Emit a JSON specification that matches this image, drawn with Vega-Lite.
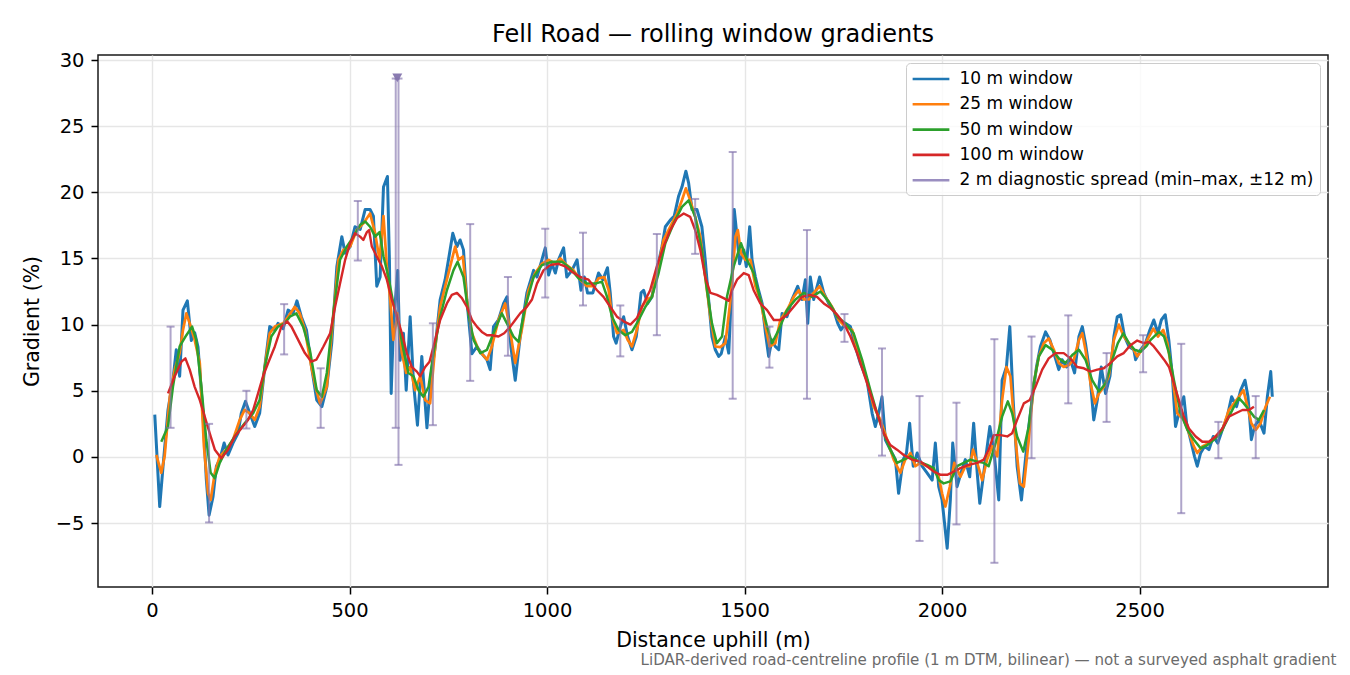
{
  "$schema": "https://vega.github.io/schema/vega-lite/v6.json",
  "width": 1230,
  "height": 532,
  "autosize": {"type": "none"},
  "padding": {"left": 98, "top": 55, "right": 22, "bottom": 88},
  "title": {"text": "Fell Road — rolling window gradients", "fontSize": 24, "fontWeight": "normal", "color": "#000000", "anchor": "middle", "frame": "group", "baseline": "alphabetic", "offset": 12, "dy": 28},
  "config": {
    "font": "DejaVu Sans",
    "view": {"stroke": "#1a1a1a", "strokeWidth": 1.5},
    "line": {"strokeJoin": "round", "strokeCap": "butt"},
    "axis": {"domain": false, "gridColor": "#e6e6e6", "gridWidth": 1.4, "tickColor": "#000000", "tickSize": 7, "tickWidth": 1.5, "labelFontSize": 19.5, "labelColor": "#000000", "labelPadding": 7, "titleFontSize": 20.5, "titleFontWeight": "normal", "titleColor": "#000000"}
  },
  "datasets": {
    "w10": [
      {"d":7,"g":3.2},{"d":19.5,"g":-3.75},{"d":28,"g":-0.7},{"d":40.5,"g":3.55},{"d":53,"g":5.8},{"d":61.5,"g":8.1},{"d":70,"g":6.1},{"d":78.5,"g":11.1},{"d":89.5,"g":11.8},{"d":99.5,"g":8.8},{"d":108,"g":9.4},{"d":116.5,"g":8.3},{"d":129,"g":3.3},{"d":137.5,"g":-1.7},{"d":144.5,"g":-4.4},{"d":154.5,"g":-3.0},{"d":163,"g":-0.7},{"d":171.5,"g":-0.2},{"d":182.5,"g":1.05},{"d":192.5,"g":0.15},{"d":205,"g":1.05},{"d":218,"g":1.8},{"d":226,"g":3.3},{"d":236.5,"g":4.2},{"d":247.5,"g":3.3},{"d":260,"g":2.3},{"d":272.5,"g":3.3},{"d":285.5,"g":6.8},{"d":298,"g":9.85},{"d":311,"g":9.6},{"d":319,"g":10.1},{"d":332,"g":9.7},{"d":344.5,"g":11.1},{"d":357,"g":10.85},{"d":367,"g":11.8},{"d":378,"g":10.6},{"d":391,"g":9.6},{"d":404,"g":6.8},{"d":417,"g":4.3},{"d":430,"g":3.8},{"d":442.5,"g":5.3},{"d":455,"g":8.6},{"d":468,"g":14.4},{"d":480.5,"g":16.65},{"d":489,"g":15.4},{"d":501.5,"g":15.9},{"d":514,"g":17.4},{"d":527,"g":17.2},{"d":539.5,"g":18.7},{"d":552,"g":18.7},{"d":560.5,"g":18.2},{"d":569,"g":12.9},{"d":577.5,"g":13.6},{"d":586,"g":20.4},{"d":596,"g":21.2},{"d":601,"g":14.9},{"d":605.5,"g":4.8},{"d":611,"g":9.85},{"d":622,"g":14.1},{"d":628,"g":7.3},{"d":636.5,"g":9.35},{"d":643.5,"g":5.05},{"d":653.5,"g":10.6},{"d":662,"g":5.6},{"d":672,"g":2.4},{"d":683,"g":7.6},{"d":696,"g":2.2},{"d":706,"g":6.1},{"d":717,"g":8.35},{"d":729.5,"g":11.9},{"d":742,"g":13.4},{"d":750.5,"g":14.9},{"d":761.5,"g":16.9},{"d":772,"g":15.9},{"d":780,"g":16.4},{"d":788.5,"g":15.65},{"d":797,"g":11.9},{"d":810,"g":7.8},{"d":822.5,"g":8.35},{"d":835,"g":7.8},{"d":848,"g":7.35},{"d":856,"g":6.6},{"d":864.5,"g":9.85},{"d":877,"g":10.35},{"d":890,"g":11.6},{"d":898.5,"g":12.1},{"d":908.5,"g":8.35},{"d":919.5,"g":5.8},{"d":932,"g":9.1},{"d":949,"g":12.4},{"d":966,"g":14.1},{"d":974.5,"g":13.6},{"d":987,"g":14.9},{"d":995.5,"g":15.8},{"d":1004,"g":13.75},{"d":1012.5,"g":14.6},{"d":1021,"g":13.9},{"d":1029,"g":14.9},{"d":1042,"g":15.8},{"d":1050,"g":13.6},{"d":1063,"g":14.1},{"d":1076,"g":14.9},{"d":1086,"g":12.6},{"d":1094.5,"g":13.6},{"d":1102.5,"g":12.4},{"d":1116,"g":12.4},{"d":1130.5,"g":13.9},{"d":1141.5,"g":13.4},{"d":1153,"g":14.3},{"d":1160,"g":12.4},{"d":1168.5,"g":9.1},{"d":1175,"g":8.6},{"d":1185.5,"g":9.85},{"d":1194,"g":10.6},{"d":1204,"g":9.1},{"d":1215,"g":8.1},{"d":1226,"g":9.1},{"d":1238,"g":12.4},{"d":1244.5,"g":12.6},{"d":1254.5,"g":11.6},{"d":1265.5,"g":12.1},{"d":1278,"g":14.1},{"d":1291,"g":15.9},{"d":1299.5,"g":17.4},{"d":1312,"g":17.9},{"d":1322,"g":18.2},{"d":1333,"g":19.7},{"d":1341.5,"g":20.4},{"d":1351.5,"g":21.6},{"d":1358.5,"g":20.7},{"d":1367,"g":18.7},{"d":1379.5,"g":18.7},{"d":1392,"g":17.4},{"d":1400.5,"g":14.9},{"d":1409,"g":11.9},{"d":1417.5,"g":9.1},{"d":1426,"g":8.1},{"d":1434.5,"g":7.6},{"d":1441,"g":7.8},{"d":1451.5,"g":9.1},{"d":1460,"g":7.85},{"d":1468.5,"g":13.6},{"d":1474,"g":18.7},{"d":1481,"g":16.65},{"d":1487.5,"g":14.6},{"d":1498,"g":15.65},{"d":1504.5,"g":14.4},{"d":1513,"g":17.4},{"d":1519,"g":14.9},{"d":1527.5,"g":13.6},{"d":1535.5,"g":12.6},{"d":1544.5,"g":11.6},{"d":1553,"g":9.35},{"d":1561,"g":7.6},{"d":1569.5,"g":8.85},{"d":1578,"g":8.35},{"d":1586.5,"g":8.1},{"d":1595,"g":10.85},{"d":1607.5,"g":10.6},{"d":1620,"g":11.9},{"d":1634.5,"g":12.9},{"d":1645.5,"g":11.9},{"d":1654,"g":13.4},{"d":1660,"g":10.1},{"d":1666.5,"g":13.6},{"d":1675,"g":11.9},{"d":1690,"g":13.6},{"d":1700.5,"g":12.4},{"d":1713,"g":11.6},{"d":1725.5,"g":11.1},{"d":1736,"g":10.1},{"d":1744,"g":9.6},{"d":1755,"g":10.1},{"d":1768,"g":9.85},{"d":1780.5,"g":8.35},{"d":1793,"g":7.1},{"d":1810,"g":5.8},{"d":1823,"g":3.3},{"d":1831,"g":2.3},{"d":1839.5,"g":3.3},{"d":1848,"g":4.55},{"d":1856.5,"g":1.3},{"d":1869,"g":0.55},{"d":1882,"g":-0.2},{"d":1890,"g":-2.75},{"d":1901.5,"g":-0.2},{"d":1910,"g":0.3},{"d":1918,"g":2.55},{"d":1927,"g":-0.7},{"d":1937,"g":0.3},{"d":1949.5,"g":-0.7},{"d":1962,"g":-1.2},{"d":1975,"g":-1.75},{"d":1983,"g":1.05},{"d":1991.5,"g":-2.25},{"d":2000,"g":-3.25},{"d":2013,"g":-6.9},{"d":2021,"g":-3.25},{"d":2027,"g":1.05},{"d":2038,"g":-2.25},{"d":2048,"g":-1.2},{"d":2059,"g":-0.2},{"d":2070,"g":-1.5},{"d":2080,"g":2.55},{"d":2089,"g":-1.2},{"d":2095.5,"g":-3.5},{"d":2105.5,"g":-1.2},{"d":2121,"g":2.3},{"d":2131,"g":0.55},{"d":2143.5,"g":-3.25},{"d":2152,"g":5.8},{"d":2163,"g":6.8},{"d":2171.5,"g":9.85},{"d":2180,"g":4.3},{"d":2190,"g":-0.7},{"d":2201,"g":-3.25},{"d":2211,"g":-0.2},{"d":2219.5,"g":2.3},{"d":2228,"g":4.3},{"d":2239,"g":6.8},{"d":2249,"g":8.35},{"d":2262,"g":9.45},{"d":2273,"g":8.85},{"d":2283,"g":7.85},{"d":2295.5,"g":6.6},{"d":2304,"g":7.35},{"d":2315,"g":6.8},{"d":2325,"g":7.35},{"d":2335.5,"g":6.35},{"d":2346.5,"g":9.1},{"d":2355,"g":9.85},{"d":2363,"g":8.6},{"d":2374,"g":6.35},{"d":2384,"g":2.8},{"d":2393,"g":4.3},{"d":2403,"g":6.8},{"d":2414,"g":4.8},{"d":2425,"g":6.1},{"d":2435,"g":9.1},{"d":2443.5,"g":10.6},{"d":2452,"g":10.75},{"d":2462,"g":9.1},{"d":2473,"g":8.35},{"d":2485.5,"g":8.1},{"d":2490,"g":7.35},{"d":2502.5,"g":8.1},{"d":2515,"g":8.6},{"d":2526,"g":9.6},{"d":2536,"g":10.35},{"d":2546.5,"g":9.35},{"d":2555,"g":10.35},{"d":2565,"g":10.75},{"d":2574,"g":8.85},{"d":2583,"g":6.1},{"d":2591,"g":2.3},{"d":2599.5,"g":3.3},{"d":2612,"g":4.55},{"d":2619,"g":2.55},{"d":2629,"g":1.3},{"d":2639,"g":0.05},{"d":2646,"g":-0.7},{"d":2654.5,"g":0.3},{"d":2664.5,"g":0.8},{"d":2675.5,"g":0.55},{"d":2686.5,"g":1.55},{"d":2698,"g":1.05},{"d":2709.5,"g":2.05},{"d":2722,"g":3.05},{"d":2733,"g":4.55},{"d":2745.5,"g":3.8},{"d":2756,"g":5.05},{"d":2767,"g":5.8},{"d":2774.5,"g":4.55},{"d":2783,"g":1.3},{"d":2791,"g":2.3},{"d":2802,"g":2.8},{"d":2815,"g":1.8},{"d":2823.5,"g":4.55},{"d":2832,"g":6.45},{"d":2836,"g":4.55}
    ],
    "w25": [
      {"d":11,"g":0.15},{"d":23.5,"g":-1.2},{"d":32,"g":0.05},{"d":45,"g":4.55},{"d":57.5,"g":6.6},{"d":70,"g":7.85},{"d":78.5,"g":9.6},{"d":87,"g":10.85},{"d":95.5,"g":10.1},{"d":108,"g":8.85},{"d":121,"g":7.1},{"d":131.5,"g":0.8},{"d":142,"g":-2.75},{"d":148.5,"g":-3.25},{"d":159,"g":-1.2},{"d":171.5,"g":0.05},{"d":188,"g":0.55},{"d":205,"g":1.3},{"d":222,"g":2.8},{"d":234.5,"g":3.55},{"d":247.5,"g":3.3},{"d":260,"g":2.8},{"d":272.5,"g":3.8},{"d":285.5,"g":6.8},{"d":298,"g":9.35},{"d":311,"g":9.85},{"d":332,"g":10.1},{"d":344.5,"g":10.6},{"d":361.5,"g":11.35},{"d":374,"g":10.85},{"d":387,"g":9.6},{"d":403.5,"g":6.8},{"d":416,"g":5.05},{"d":425.5,"g":4.05},{"d":442.5,"g":5.3},{"d":455,"g":9.35},{"d":472,"g":14.9},{"d":484.5,"g":15.65},{"d":501.5,"g":15.9},{"d":518.5,"g":17.15},{"d":535,"g":17.65},{"d":552,"g":18.4},{"d":565,"g":16.9},{"d":576,"g":14.9},{"d":586,"g":18.2},{"d":594.5,"g":14.4},{"d":603,"g":11.9},{"d":611,"g":8.85},{"d":622,"g":10.85},{"d":632.5,"g":7.85},{"d":643.5,"g":6.35},{"d":653.5,"g":6.8},{"d":666,"g":5.05},{"d":679,"g":6.1},{"d":691.5,"g":4.3},{"d":704,"g":4.05},{"d":717,"g":8.35},{"d":729.5,"g":11.35},{"d":746.5,"g":13.4},{"d":759,"g":14.9},{"d":767.5,"g":15.9},{"d":776,"g":14.9},{"d":787,"g":15.15},{"d":797,"g":11.9},{"d":810,"g":9.35},{"d":826.5,"g":8.1},{"d":848,"g":7.35},{"d":860.5,"g":8.35},{"d":877,"g":10.35},{"d":894,"g":11.6},{"d":905,"g":9.85},{"d":919.5,"g":7.1},{"d":936,"g":9.6},{"d":953,"g":12.6},{"d":970,"g":13.9},{"d":987,"g":14.6},{"d":1004,"g":14.9},{"d":1021,"g":14.6},{"d":1033.5,"g":15.0},{"d":1050,"g":14.5},{"d":1067,"g":14.1},{"d":1084,"g":13.4},{"d":1101,"g":12.9},{"d":1118,"g":12.9},{"d":1130.5,"g":13.5},{"d":1145,"g":13.6},{"d":1156,"g":12.6},{"d":1164.5,"g":10.6},{"d":1177,"g":9.35},{"d":1194,"g":9.6},{"d":1204,"g":8.85},{"d":1215,"g":8.35},{"d":1227.5,"g":9.6},{"d":1240,"g":11.35},{"d":1253,"g":11.9},{"d":1265.5,"g":12.1},{"d":1278,"g":13.9},{"d":1295,"g":16.4},{"d":1312,"g":17.4},{"d":1329,"g":18.4},{"d":1341.5,"g":19.4},{"d":1351.5,"g":20.3},{"d":1362.5,"g":19.4},{"d":1375,"g":18.15},{"d":1388,"g":16.65},{"d":1400.5,"g":13.6},{"d":1413.5,"g":10.6},{"d":1426,"g":8.35},{"d":1438.5,"g":8.3},{"d":1451.5,"g":8.6},{"d":1464.5,"g":11.9},{"d":1477,"g":16.65},{"d":1483,"g":17.15},{"d":1491,"g":15.4},{"d":1502,"g":14.9},{"d":1515,"g":14.9},{"d":1527.5,"g":12.9},{"d":1540,"g":11.9},{"d":1553,"g":9.85},{"d":1563.5,"g":8.35},{"d":1578,"g":8.6},{"d":1590.5,"g":10.35},{"d":1607.5,"g":11.1},{"d":1624.5,"g":12.1},{"d":1637,"g":12.6},{"d":1650,"g":11.9},{"d":1662.5,"g":11.9},{"d":1675,"g":12.4},{"d":1690,"g":12.9},{"d":1704.5,"g":12.1},{"d":1721.5,"g":11.35},{"d":1738.5,"g":10.35},{"d":1755,"g":9.85},{"d":1772.5,"g":9.6},{"d":1789,"g":7.85},{"d":1810,"g":5.8},{"d":1827,"g":3.8},{"d":1844,"g":2.8},{"d":1861,"g":1.3},{"d":1877.5,"g":-0.2},{"d":1894.5,"g":-1.2},{"d":1907,"g":-0.2},{"d":1920,"g":0.3},{"d":1932.5,"g":-0.7},{"d":1945,"g":-0.45},{"d":1962,"g":-0.7},{"d":1979,"g":-1.0},{"d":1991.5,"g":-1.5},{"d":2000,"g":-2.75},{"d":2008.5,"g":-3.75},{"d":2019.5,"g":-2.25},{"d":2031,"g":-0.45},{"d":2046.5,"g":-1.5},{"d":2059,"g":-0.7},{"d":2070,"g":-0.7},{"d":2078.5,"g":0.55},{"d":2089,"g":-0.45},{"d":2101.5,"g":-1.75},{"d":2114,"g":-0.2},{"d":2127,"g":0.8},{"d":2139.5,"g":0.05},{"d":2152,"g":4.3},{"d":2163,"g":6.8},{"d":2173,"g":6.1},{"d":2186,"g":1.3},{"d":2197,"g":-2.0},{"d":2207,"g":-2.25},{"d":2219.5,"g":1.3},{"d":2232,"g":5.55},{"d":2245,"g":7.6},{"d":2257.5,"g":8.6},{"d":2270,"g":8.95},{"d":2283,"g":8.1},{"d":2295.5,"g":7.1},{"d":2308,"g":6.8},{"d":2321,"g":6.95},{"d":2333.5,"g":7.35},{"d":2346.5,"g":8.85},{"d":2355,"g":9.35},{"d":2363,"g":8.1},{"d":2376,"g":5.55},{"d":2387,"g":4.05},{"d":2397,"g":4.8},{"d":2409.5,"g":5.3},{"d":2422,"g":6.1},{"d":2435,"g":8.85},{"d":2447.5,"g":10.0},{"d":2460,"g":9.1},{"d":2473,"g":8.6},{"d":2485.5,"g":8.1},{"d":2494,"g":7.6},{"d":2511,"g":8.35},{"d":2524,"g":9.1},{"d":2535,"g":9.7},{"d":2546.5,"g":9.1},{"d":2560,"g":9.6},{"d":2570.5,"g":8.6},{"d":2583,"g":6.1},{"d":2595.5,"g":3.3},{"d":2612,"g":2.8},{"d":2625,"g":1.8},{"d":2637.5,"g":0.8},{"d":2646,"g":0.3},{"d":2659,"g":0.8},{"d":2675.5,"g":1.05},{"d":2692.5,"g":1.55},{"d":2709.5,"g":2.05},{"d":2726,"g":3.55},{"d":2739,"g":4.05},{"d":2751.5,"g":4.55},{"d":2763,"g":5.05},{"d":2773,"g":3.8},{"d":2783,"g":2.55},{"d":2794,"g":2.05},{"d":2806.5,"g":2.55},{"d":2819,"g":3.8},{"d":2830,"g":4.55}
    ],
    "w50": [
      {"d":23.5,"g":1.15},{"d":40.5,"g":2.3},{"d":53,"g":5.3},{"d":70,"g":8.35},{"d":87,"g":9.2},{"d":101.5,"g":9.85},{"d":112,"g":8.85},{"d":125,"g":5.3},{"d":137.5,"g":1.3},{"d":148.5,"g":-1.2},{"d":159,"g":-1.6},{"d":171.5,"g":-0.45},{"d":188,"g":0.55},{"d":209.5,"g":1.55},{"d":234.5,"g":2.55},{"d":256,"g":3.3},{"d":272.5,"g":4.3},{"d":285.5,"g":6.8},{"d":302,"g":9.1},{"d":319,"g":9.85},{"d":336,"g":10.1},{"d":349,"g":10.6},{"d":365.5,"g":10.85},{"d":382.5,"g":9.85},{"d":399.5,"g":8.1},{"d":417,"g":5.05},{"d":430,"g":4.55},{"d":442.5,"g":6.35},{"d":459,"g":10.85},{"d":476,"g":14.9},{"d":493,"g":15.9},{"d":510,"g":16.65},{"d":527,"g":17.55},{"d":539.5,"g":17.8},{"d":552,"g":17.4},{"d":565,"g":16.65},{"d":576,"g":17.0},{"d":586,"g":15.15},{"d":598.5,"g":13.6},{"d":611,"g":11.6},{"d":624,"g":10.1},{"d":636.5,"g":8.1},{"d":649,"g":6.35},{"d":662,"g":6.1},{"d":674.5,"g":5.05},{"d":687,"g":4.55},{"d":700,"g":5.3},{"d":712.5,"g":7.85},{"d":729.5,"g":10.6},{"d":746.5,"g":12.6},{"d":763,"g":14.1},{"d":773.5,"g":14.75},{"d":788.5,"g":13.6},{"d":801,"g":10.85},{"d":814,"g":8.85},{"d":831,"g":7.85},{"d":848,"g":8.1},{"d":864.5,"g":9.35},{"d":885.5,"g":10.85},{"d":898.5,"g":10.1},{"d":915,"g":9.1},{"d":928,"g":8.7},{"d":945,"g":11.35},{"d":966,"g":13.6},{"d":987,"g":14.5},{"d":1012.5,"g":14.75},{"d":1038,"g":14.75},{"d":1059,"g":14.25},{"d":1080,"g":13.5},{"d":1101,"g":13.1},{"d":1122,"g":13.1},{"d":1139,"g":13.25},{"d":1152,"g":12.1},{"d":1164.5,"g":10.6},{"d":1181,"g":9.6},{"d":1198,"g":9.2},{"d":1215,"g":9.45},{"d":1232,"g":10.35},{"d":1249,"g":11.35},{"d":1265.5,"g":12.1},{"d":1282.5,"g":13.9},{"d":1299.5,"g":16.15},{"d":1320.5,"g":17.65},{"d":1341.5,"g":18.9},{"d":1358.5,"g":19.4},{"d":1375,"g":18.15},{"d":1392,"g":15.65},{"d":1405,"g":12.6},{"d":1417.5,"g":10.1},{"d":1430,"g":8.6},{"d":1443,"g":9.1},{"d":1455.5,"g":12.1},{"d":1472.5,"g":14.4},{"d":1491,"g":16.15},{"d":1506,"g":14.9},{"d":1523,"g":13.9},{"d":1540,"g":11.9},{"d":1557,"g":9.85},{"d":1569.5,"g":8.6},{"d":1586.5,"g":9.6},{"d":1607.5,"g":11.1},{"d":1629,"g":11.9},{"d":1650,"g":12.4},{"d":1671,"g":12.1},{"d":1692,"g":12.5},{"d":1713,"g":11.75},{"d":1734.5,"g":10.6},{"d":1755,"g":10.1},{"d":1776,"g":9.35},{"d":1797.5,"g":7.35},{"d":1818.5,"g":5.05},{"d":1835.5,"g":3.3},{"d":1852,"g":1.8},{"d":1869,"g":0.55},{"d":1886,"g":-0.45},{"d":1903,"g":-0.2},{"d":1920,"g":0.05},{"d":1941,"g":-0.35},{"d":1962,"g":-0.6},{"d":1979,"g":-0.85},{"d":1991.5,"g":-1.75},{"d":2004,"g":-2.0},{"d":2021,"g":-1.85},{"d":2038,"g":-0.7},{"d":2055,"g":-0.45},{"d":2072,"g":-0.2},{"d":2089,"g":-0.35},{"d":2105.5,"g":-0.45},{"d":2118,"g":-0.7},{"d":2135.5,"g":1.05},{"d":2152,"g":3.05},{"d":2166.5,"g":4.2},{"d":2177.5,"g":3.3},{"d":2190,"g":1.55},{"d":2205.5,"g":0.4},{"d":2219.5,"g":2.3},{"d":2232,"g":5.55},{"d":2245,"g":7.6},{"d":2262,"g":8.45},{"d":2279,"g":8.1},{"d":2295.5,"g":7.45},{"d":2312.5,"g":7.1},{"d":2329.5,"g":7.7},{"d":2346.5,"g":8.1},{"d":2363,"g":7.35},{"d":2380,"g":5.8},{"d":2397,"g":4.95},{"d":2414,"g":5.55},{"d":2431,"g":7.35},{"d":2445,"g":8.6},{"d":2459,"g":9.35},{"d":2473,"g":8.6},{"d":2487.5,"g":8.1},{"d":2502.5,"g":7.95},{"d":2518,"g":8.4},{"d":2528,"g":8.85},{"d":2549,"g":9.45},{"d":2562,"g":9.1},{"d":2574.5,"g":7.85},{"d":2587,"g":5.8},{"d":2604,"g":3.3},{"d":2621,"g":2.05},{"d":2637.5,"g":1.3},{"d":2654.5,"g":0.65},{"d":2671.5,"g":0.9},{"d":2688,"g":1.3},{"d":2705,"g":1.8},{"d":2722,"g":2.8},{"d":2739,"g":3.8},{"d":2751.5,"g":4.45},{"d":2764,"g":4.05},{"d":2777,"g":3.55},{"d":2789.5,"g":3.05},{"d":2802,"g":2.8},{"d":2815,"g":3.55}
    ],
    "w100": [
      {"d":40.5,"g":4.8},{"d":57.5,"g":6.1},{"d":74.5,"g":7.2},{"d":84.5,"g":7.45},{"d":95.5,"g":6.6},{"d":108,"g":5.3},{"d":121,"g":4.3},{"d":133.5,"g":3.05},{"d":146,"g":1.8},{"d":159,"g":0.55},{"d":175.5,"g":-0.1},{"d":192.5,"g":0.55},{"d":209.5,"g":1.55},{"d":226,"g":2.15},{"d":243,"g":2.8},{"d":256,"g":3.55},{"d":268.5,"g":4.8},{"d":281,"g":6.1},{"d":294,"g":7.1},{"d":311,"g":8.35},{"d":327.5,"g":9.85},{"d":342,"g":10.25},{"d":353,"g":9.85},{"d":370,"g":8.85},{"d":387,"g":7.85},{"d":403.5,"g":7.2},{"d":416,"g":7.35},{"d":434,"g":8.35},{"d":451,"g":9.35},{"d":463.5,"g":11.35},{"d":476,"g":13.1},{"d":489,"g":14.9},{"d":501.5,"g":16.15},{"d":514,"g":16.9},{"d":527,"g":16.65},{"d":535,"g":16.4},{"d":544,"g":17.0},{"d":549.5,"g":17.15},{"d":556.5,"g":15.9},{"d":569,"g":15.15},{"d":582,"g":14.4},{"d":594.5,"g":13.4},{"d":607,"g":11.9},{"d":620,"g":10.6},{"d":632.5,"g":9.35},{"d":645,"g":7.85},{"d":657.5,"g":6.8},{"d":670.5,"g":6.45},{"d":679,"g":6.1},{"d":691.5,"g":6.8},{"d":702.5,"g":7.2},{"d":712.5,"g":8.35},{"d":729.5,"g":10.35},{"d":746.5,"g":11.6},{"d":759,"g":12.25},{"d":772,"g":12.4},{"d":784.5,"g":12.0},{"d":797,"g":11.35},{"d":810,"g":10.35},{"d":822.5,"g":9.85},{"d":835,"g":9.45},{"d":848,"g":9.2},{"d":860.5,"g":9.2},{"d":877,"g":9.1},{"d":891.5,"g":9.35},{"d":907,"g":9.85},{"d":919.5,"g":10.35},{"d":932,"g":10.85},{"d":949,"g":11.35},{"d":962,"g":11.9},{"d":974.5,"g":13.1},{"d":991,"g":14.1},{"d":1008,"g":14.5},{"d":1029,"g":14.6},{"d":1046,"g":14.4},{"d":1063,"g":14.0},{"d":1084,"g":13.6},{"d":1105,"g":13.4},{"d":1126.5,"g":12.6},{"d":1143,"g":12.1},{"d":1160,"g":11.35},{"d":1177,"g":10.6},{"d":1194,"g":10.25},{"d":1211,"g":10.0},{"d":1227.5,"g":10.5},{"d":1244.5,"g":11.6},{"d":1261,"g":12.6},{"d":1278,"g":14.4},{"d":1295,"g":15.9},{"d":1312,"g":17.15},{"d":1329,"g":18.05},{"d":1346,"g":18.4},{"d":1362.5,"g":18.15},{"d":1375,"g":17.15},{"d":1388,"g":15.65},{"d":1400.5,"g":13.6},{"d":1413.5,"g":12.4},{"d":1430,"g":12.25},{"d":1447,"g":12.0},{"d":1460,"g":11.8},{"d":1468.5,"g":12.6},{"d":1481,"g":13.4},{"d":1498,"g":13.9},{"d":1510.5,"g":13.75},{"d":1523,"g":12.6},{"d":1540,"g":11.6},{"d":1557,"g":11.1},{"d":1574,"g":10.35},{"d":1590.5,"g":10.35},{"d":1607.5,"g":10.75},{"d":1624.5,"g":11.35},{"d":1645.5,"g":12.1},{"d":1666.5,"g":12.25},{"d":1683.5,"g":12.1},{"d":1700.5,"g":11.6},{"d":1717.5,"g":11.25},{"d":1734.5,"g":10.75},{"d":1751,"g":10.1},{"d":1768,"g":9.1},{"d":1785,"g":7.85},{"d":1801.5,"g":6.35},{"d":1818.5,"g":4.8},{"d":1835.5,"g":3.3},{"d":1852,"g":1.8},{"d":1869,"g":0.9},{"d":1886,"g":0.55},{"d":1903,"g":0.15},{"d":1924,"g":-0.2},{"d":1945,"g":-0.35},{"d":1962,"g":-0.7},{"d":1979,"g":-1.1},{"d":1996,"g":-1.35},{"d":2013,"g":-1.35},{"d":2030,"g":-1.1},{"d":2046.5,"g":-0.85},{"d":2067.5,"g":-0.6},{"d":2089,"g":-0.45},{"d":2105.5,"g":-0.2},{"d":2118,"g":0.55},{"d":2131,"g":1.65},{"d":2148,"g":1.65},{"d":2165,"g":1.55},{"d":2177.5,"g":1.8},{"d":2190,"g":2.8},{"d":2207,"g":4.05},{"d":2222,"g":4.3},{"d":2236.5,"g":5.3},{"d":2253.5,"g":6.6},{"d":2270,"g":7.45},{"d":2287,"g":7.85},{"d":2308,"g":7.85},{"d":2325,"g":7.45},{"d":2342,"g":6.8},{"d":2359,"g":6.7},{"d":2376,"g":6.45},{"d":2393,"g":6.6},{"d":2409.5,"g":6.7},{"d":2426.5,"g":7.1},{"d":2443.5,"g":7.6},{"d":2460,"g":7.85},{"d":2477,"g":8.45},{"d":2494,"g":8.8},{"d":2511,"g":8.6},{"d":2524,"g":8.7},{"d":2536,"g":8.35},{"d":2549,"g":7.85},{"d":2562,"g":7.35},{"d":2574.5,"g":6.8},{"d":2587,"g":5.55},{"d":2599.5,"g":4.3},{"d":2612,"g":3.05},{"d":2625,"g":2.15},{"d":2642,"g":1.55},{"d":2659,"g":1.15},{"d":2675.5,"g":1.15},{"d":2692.5,"g":1.55},{"d":2709.5,"g":2.15},{"d":2726,"g":3.05},{"d":2743.5,"g":3.3},{"d":2760.5,"g":3.55},{"d":2777,"g":3.55},{"d":2789.5,"g":3.8}
    ],
    "spread": [
      {"d":47,"lo":2.2,"hi":9.85},{"d":144.5,"lo":-4.95,"hi":2.5},{"d":239,"lo":2.15,"hi":5.0},{"d":334.5,"lo":7.75,"hi":11.55},{"d":427,"lo":2.2,"hi":6.7},{"d":521,"lo":14.85,"hi":19.35},{"d":617,"lo":2.2,"hi":28.6},{"d":624,"lo":-0.6,"hi":28.6},{"d":711,"lo":2.4,"hi":10.1},{"d":805.5,"lo":5.75,"hi":17.6},{"d":901,"lo":7.65,"hi":13.6},{"d":995.5,"lo":12.05,"hi":17.25},{"d":1091,"lo":11.45,"hi":16.95},{"d":1185.5,"lo":7.6,"hi":11.45},{"d":1278,"lo":9.2,"hi":16.85},{"d":1375,"lo":15.35,"hi":19.5},{"d":1470,"lo":4.4,"hi":23.05},{"d":1563,"lo":6.75,"hi":9.85},{"d":1658,"lo":4.4,"hi":17.15},{"d":1753,"lo":8.7,"hi":10.8},{"d":1848,"lo":0.1,"hi":8.2},{"d":1943,"lo":-6.35,"hi":4.6},{"d":2036.5,"lo":-5.1,"hi":4.1},{"d":2132.5,"lo":-8.0,"hi":8.9},{"d":2226.5,"lo":-0.1,"hi":9.1},{"d":2319.5,"lo":4.05,"hi":10.7},{"d":2416.5,"lo":2.65,"hi":7.85},{"d":2509,"lo":6.4,"hi":9.2},{"d":2605.5,"lo":-4.25,"hi":8.55},{"d":2699.5,"lo":-0.1,"hi":2.65},{"d":2794,"lo":-0.1,"hi":4.6}
    ],
    "clipped": [{"d":621,"g":28.65}]
  },
  "resolve": {"axis": {"x": "independent"}},
  "layer": [
    {
      "data": {"name": "w10"},
      "mark": {"type": "line", "strokeWidth": 3},
      "encoding": {
        "x": {"field": "d", "type": "quantitative", "scale": {"domain": [-136.7, 2977], "nice": false, "zero": false}, "axis": {"orient": "bottom", "title": "Distance uphill (m)", "values": [0, 500, 1000, 1500, 2000, 2500], "format": "d", "titlePadding": 11}},
        "y": {"field": "g", "type": "quantitative", "scale": {"domain": [-9.83, 30.38], "nice": false, "zero": false}, "axis": {"title": "Gradient (%)", "values": [-5, 0, 5, 10, 15, 20, 25, 30], "titlePadding": 13}},
        "color": {
          "datum": "10 m window",
          "scale": {"domain": ["10 m window", "25 m window", "50 m window", "100 m window", "2 m diagnostic spread (min–max, ±12 m)"], "range": ["#1f77b4", "#ff7f0e", "#2ca02c", "#d62728", "#9a8ec0"]},
          "legend": {
            "title": null, "orient": "top-right", "offset": 8, "padding": 6,
            "symbolType": "M-2.2,0L2.2,0", "symbolSize": 279, "symbolStrokeWidth": 2.6, "symbolOffset": 9,
            "labelFontSize": 17, "labelColor": "#000000", "labelOffset": 18.5, "labelLimit": 0,
            "rowPadding": 7.3, "strokeColor": "#cccccc", "fillColor": "rgba(255,255,255,0.8)", "cornerRadius": 4,
            "encode": {"symbols": {
              "shape": {"condition": {"test": "datum.value === '2 m diagnostic spread (min–max, ±12 m)'", "value": "M0,-0.9L0,0.9M-0.45,-0.9L0.45,-0.9M-0.45,0.9L0.45,0.9"}, "value": "M-2.2,0L2.2,0"}
            }}
          }
        }
      }
    },
    {
      "data": {"name": "w25"},
      "mark": {"type": "line", "strokeWidth": 2.7},
      "encoding": {
        "x": {"field": "d", "type": "quantitative", "scale": {"domain": [-136.7, 2977], "nice": false, "zero": false}, "axis": null},
        "y": {"field": "g", "type": "quantitative", "scale": {"domain": [-9.83, 30.38], "nice": false, "zero": false}},
        "color": {"datum": "25 m window"}
      }
    },
    {
      "data": {"name": "w50"},
      "mark": {"type": "line", "strokeWidth": 2.5},
      "encoding": {
        "x": {"field": "d", "type": "quantitative", "scale": {"domain": [-136.7, 2977], "nice": false, "zero": false}, "axis": null},
        "y": {"field": "g", "type": "quantitative", "scale": {"domain": [-9.83, 30.38], "nice": false, "zero": false}},
        "color": {"datum": "50 m window"}
      }
    },
    {
      "data": {"name": "w100"},
      "mark": {"type": "line", "strokeWidth": 2.4},
      "encoding": {
        "x": {"field": "d", "type": "quantitative", "scale": {"domain": [-136.7, 2977], "nice": false, "zero": false}, "axis": null},
        "y": {"field": "g", "type": "quantitative", "scale": {"domain": [-9.83, 30.38], "nice": false, "zero": false}},
        "color": {"datum": "100 m window"}
      }
    },
    {
      "data": {"name": "spread"},
      "mark": {"type": "rule", "color": "#8475ad", "opacity": 0.65, "strokeWidth": 2},
      "encoding": {
        "x": {"field": "d", "type": "quantitative", "scale": {"domain": [-136.7, 2977], "nice": false, "zero": false}, "axis": null},
        "y": {"field": "lo", "type": "quantitative", "scale": {"domain": [-9.83, 30.38], "nice": false, "zero": false}},
        "y2": {"field": "hi"}
      }
    },
    {
      "data": {"name": "spread"},
      "mark": {"type": "tick", "orient": "horizontal", "color": "#8475ad", "opacity": 0.65, "size": 8, "thickness": 2},
      "encoding": {
        "x": {"field": "d", "type": "quantitative", "scale": {"domain": [-136.7, 2977], "nice": false, "zero": false}, "axis": null},
        "y": {"field": "lo", "type": "quantitative", "scale": {"domain": [-9.83, 30.38], "nice": false, "zero": false}}
      }
    },
    {
      "data": {"name": "spread"},
      "mark": {"type": "tick", "orient": "horizontal", "color": "#8475ad", "opacity": 0.65, "size": 8, "thickness": 2},
      "encoding": {
        "x": {"field": "d", "type": "quantitative", "scale": {"domain": [-136.7, 2977], "nice": false, "zero": false}, "axis": null},
        "y": {"field": "hi", "type": "quantitative", "scale": {"domain": [-9.83, 30.38], "nice": false, "zero": false}}
      }
    },
    {
      "data": {"name": "clipped"},
      "mark": {"type": "point", "shape": "triangle-down", "filled": true, "color": "#8474ad", "opacity": 0.95, "size": 100},
      "encoding": {
        "x": {"field": "d", "type": "quantitative", "scale": {"domain": [-136.7, 2977], "nice": false, "zero": false},
          "axis": {"orient": "bottom", "title": "LiDAR-derived road-centreline profile (1 m DTM, bilinear) — not a surveyed asphalt gradient", "labels": false, "ticks": false, "domain": false, "grid": false, "titleFontSize": 15.1, "titleColor": "#6b6b6b", "titleAlign": "right", "titleBaseline": "top", "titleX": 1238, "titleY": 65}},
        "y": {"field": "g", "type": "quantitative", "scale": {"domain": [-9.83, 30.38], "nice": false, "zero": false}}
      }
    }
  ]
}
